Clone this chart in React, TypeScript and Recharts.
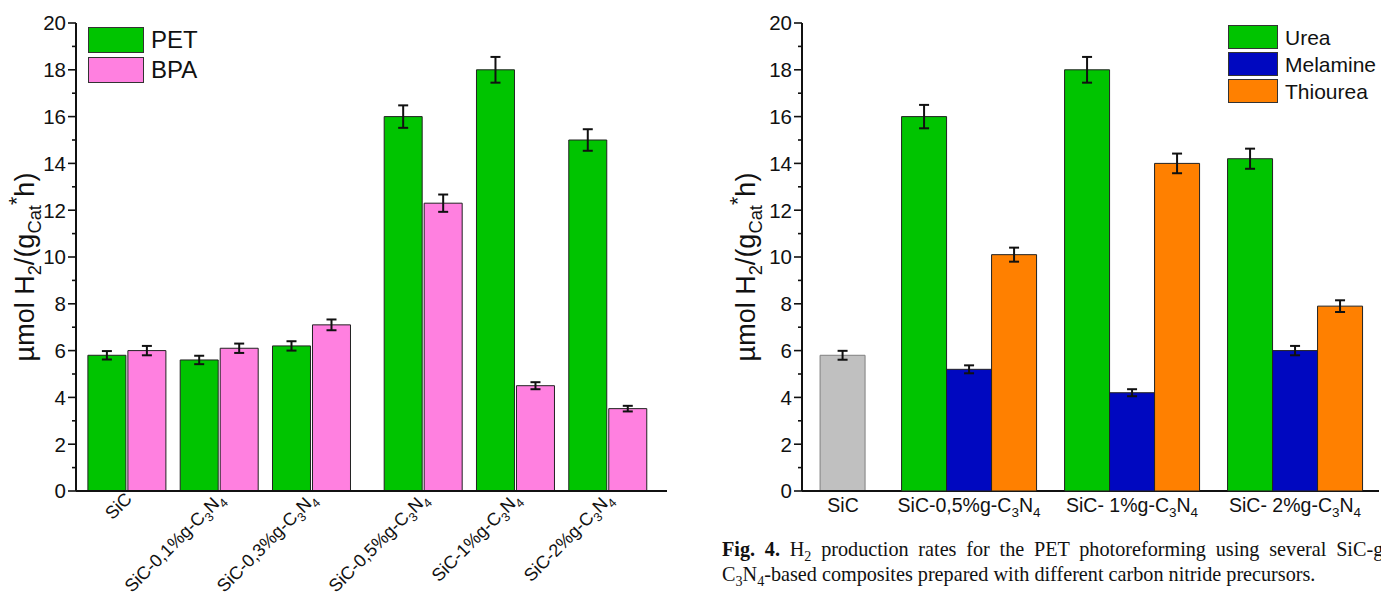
import React from 'react';
import { BarChart, Bar, XAxis, YAxis, ErrorBar, Cell, Legend } from 'recharts';

// ---------------- DATA ----------------
const leftCategories = ['SiC', 'SiC-0,1%g-C3N4', 'SiC-0,3%g-C3N4', 'SiC-0,5%g-C3N4', 'SiC-1%g-C3N4', 'SiC-2%g-C3N4'];
const petValues = [5.8, 5.6, 6.2, 16.0, 18.0, 15.0];
const petErrors = [0.18, 0.18, 0.2, 0.48, 0.55, 0.46];
const bpaValues = [6.0, 6.1, 7.1, 12.3, 4.5, 3.52];
const bpaErrors = [0.2, 0.2, 0.23, 0.37, 0.15, 0.12];

const rightCategories = ['SiC', 'SiC-0,5%g-C3N4', 'SiC- 1%g-C3N4', 'SiC- 2%g-C3N4'];
const sicValues = [5.8, null, null, null];
const sicErrors = [0.19, null, null, null];
const ureaValues = [null, 16.0, 18.0, 14.2];
const ureaErrors = [null, 0.5, 0.55, 0.43];
const melamineValues = [null, 5.2, 4.2, 6.0];
const melamineErrors = [null, 0.17, 0.15, 0.2];
const thioureaValues = [null, 10.1, 14.0, 7.9];
const thioureaErrors = [null, 0.3, 0.42, 0.25];

const yTicks = [0, 1, 2, 3, 4, 5, 6, 7, 8, 9, 10, 11, 12, 13, 14, 15, 16, 17, 18, 19, 20];

// ---------------- LAYOUT ----------------
const LEFT_X = [0, 1, 2, 3.21, 4.21, 5.21];
const LEFT_DOMAIN: [number, number] = [-0.553, 5.85];
const RIGHT_X = [0.227, 1, 2, 3];
const RIGHT_DOMAIN: [number, number] = [-0.025, 3.515];

const SANS = '"Liberation Sans", Arial, sans-serif';
const SERIF = '"Liberation Serif", "Times New Roman", serif';
const GREEN = '#00c400';
const PINK = '#ff80e0';
const BLUE = '#0008c0';
const ORANGE = '#ff8000';
const GRAY = '#c0c0c0';

const leftRows = leftCategories.map((name, i) => ({
  name,
  pos: LEFT_X[i],
  pet: petValues[i],
  petErr: petErrors[i],
  bpa: bpaValues[i],
  bpaErr: bpaErrors[i],
}));

const rightRows = rightCategories.map((name, i) => ({
  name,
  pos: RIGHT_X[i],
  sic: sicValues[i],
  sicErr: sicErrors[i],
  urea: ureaValues[i],
  ureaErr: ureaErrors[i],
  mel: melamineValues[i],
  melErr: melamineErrors[i],
  thio: thioureaValues[i],
  thioErr: thioureaErrors[i],
}));
const rightGroupRows = rightRows.filter((r) => r.urea != null);

const Formula = ({ label, subSize, shift }: { label: string; subSize: number; shift: number }) => {
  if (!label.endsWith('C3N4')) return <tspan>{label}</tspan>;
  const head = label.slice(0, -4);
  return (
    <>
      <tspan>{head}C</tspan>
      <tspan fontSize={subSize} dy={shift}>3</tspan>
      <tspan dy={-shift}>N</tspan>
      <tspan fontSize={subSize} dy={shift}>4</tspan>
    </>
  );
};

const findIdx = (arr: number[], v: number) => arr.findIndex((p) => Math.abs(p - v) < 1e-6);

const LeftXTick = (props: any) => {
  const { x, y, payload } = props;
  const idx = findIdx(LEFT_X, payload.value);
  if (idx < 0) return null;
  return (
    <text
      transform={`translate(${x + 6},${y + 9}) rotate(-45)`}
      textAnchor="end"
      fontFamily={SANS}
      fontSize={18}
      fill="#111"
    >
      <Formula label={leftCategories[idx]} subSize={12.5} shift={5} />
    </text>
  );
};

const RightXTick = (props: any) => {
  const { x, y, payload } = props;
  const idx = findIdx(RIGHT_X, payload.value);
  if (idx < 0) return null;
  return (
    <text x={x} y={y + 21} textAnchor="middle" fontFamily={SANS} fontSize={19.5} fill="#111">
      <Formula label={rightCategories[idx]} subSize={13.5} shift={5} />
    </text>
  );
};

const YTick = (props: any) => {
  const { x, y, payload } = props;
  const v = payload.value;
  const major = v % 2 === 0;
  return (
    <g>
      <line x1={x} x2={x - (major ? 8 : 4)} y1={y} y2={y} stroke="#111" strokeWidth={1.6} />
      {major && (
        <text x={x - 10} y={y} dy="0.36em" textAnchor="end" fontFamily={SANS} fontSize={20.5} fill="#111">
          {v}
        </text>
      )}
    </g>
  );
};

const LegendBox = ({ items, box, font, gap, textGap }: any) => (
  <div style={{ display: 'flex', flexDirection: 'column', gap }}>
    {items.map((it: any) => (
      <div key={it.name} style={{ display: 'flex', alignItems: 'center' }}>
        <div
          style={{
            width: box[0],
            height: box[1],
            background: it.color,
            border: '1.5px solid #333',
            boxSizing: 'border-box',
          }}
        />
        <span style={{ marginLeft: textGap, fontFamily: SANS, fontSize: font, color: '#111', lineHeight: 1 }}>
          {it.name}
        </span>
      </div>
    ))}
  </div>
);

const YLabel = ({ cx, cy, size }: { cx: number; cy: number; size: number }) => (
  <div
    style={{
      position: 'absolute',
      left: cx,
      top: cy,
      width: 340,
      textAlign: 'center',
      transform: 'translate(-50%, -50%) rotate(-90deg)',
      fontFamily: SANS,
      fontSize: size,
      color: '#111',
      whiteSpace: 'nowrap',
      lineHeight: 1,
    }}
  >
    µmol H<sub style={{ fontSize: '0.68em' }}>2</sub>/(g<sub style={{ fontSize: '0.68em' }}>Cat</sub>
    <sup style={{ fontSize: '0.8em' }}>*</sup>h)
  </div>
);

const axisLine = { stroke: '#111', strokeWidth: 2 };
const frameLine = { stroke: '#333', strokeWidth: 1.5 };

export default function App() {
  const H = 596;
  return (
    <div
      style={{
        position: 'absolute',
        left: 0,
        top: 0,
        width: 1381,
        height: H,
        overflow: 'hidden',
        background: '#fff',
      }}
    >
      {/* LEFT CHART */}
      <div style={{ position: 'absolute', left: 0, top: 0 }}>
        <BarChart width={690} height={H} data={leftRows} margin={{ top: 23, right: 23, left: 0, bottom: 0 }} barGap={2}>
          <XAxis
            dataKey="pos"
            type="number"
            domain={LEFT_DOMAIN}
            ticks={LEFT_X}
            interval={0}
            allowDataOverflow
            height={105}
            tickSize={0}
            tickMargin={0}
            tickLine={false}
            axisLine={axisLine}
            tick={<LeftXTick />}
          />
          <XAxis xAxisId="top" orientation="top" type="number" domain={LEFT_DOMAIN} height={0} tick={false} tickLine={false} axisLine={frameLine} />
          <YAxis
            type="number"
            domain={[0, 20]}
            ticks={yTicks}
            interval={0}
            width={76}
            tickSize={0}
            tickMargin={0}
            tickLine={false}
            axisLine={axisLine}
            tick={<YTick />}
          />
          <YAxis yAxisId="right" orientation="right" type="number" domain={[0, 20]} width={0} tick={false} tickLine={false} axisLine={frameLine} />
          <Legend
            layout="vertical"
            verticalAlign="middle"
            align="center"
            wrapperStyle={{ left: 88, top: 27, width: 'auto', height: 'auto' }}
            content={() => (
              <LegendBox items={[{ name: 'PET', color: GREEN }, { name: 'BPA', color: PINK }]} box={[56, 26]} font={24} gap={4} textGap={7} />
            )}
          />
          <Bar dataKey="pet" name="PET" fill={GREEN} stroke="#222" strokeWidth={1} barSize={38} isAnimationActive={false}>
            <ErrorBar dataKey="petErr" direction="y" width={5} strokeWidth={2} stroke="#111" />
          </Bar>
          <Bar dataKey="bpa" name="BPA" fill={PINK} stroke="#222" strokeWidth={1} barSize={38} isAnimationActive={false}>
            <ErrorBar dataKey="bpaErr" direction="y" width={5} strokeWidth={2} stroke="#111" />
          </Bar>
        </BarChart>
      </div>
      <YLabel cx={25} cy={267} size={27} />

      {/* RIGHT CHART - base (axes, SiC reference bar, legend) */}
      <div style={{ position: 'absolute', left: 690, top: 0 }}>
        <BarChart width={691} height={H} data={rightRows} margin={{ top: 23, right: 2, left: 36, bottom: 0 }}>
          <XAxis
            dataKey="pos"
            type="number"
            domain={RIGHT_DOMAIN}
            ticks={RIGHT_X}
            interval={0}
            allowDataOverflow
            height={105}
            tickSize={0}
            tickMargin={0}
            tickLine={false}
            axisLine={axisLine}
            tick={<RightXTick />}
          />
          <XAxis xAxisId="top" orientation="top" type="number" domain={RIGHT_DOMAIN} height={0} tick={false} tickLine={false} axisLine={frameLine} />
          <YAxis
            type="number"
            domain={[0, 20]}
            ticks={yTicks}
            interval={0}
            width={76}
            tickSize={0}
            tickMargin={0}
            tickLine={false}
            axisLine={axisLine}
            tick={<YTick />}
          />
          <YAxis yAxisId="right" orientation="right" type="number" domain={[0, 20]} width={0} tick={false} tickLine={false} axisLine={frameLine} />
          <Legend
            layout="vertical"
            verticalAlign="middle"
            align="center"
            wrapperStyle={{ left: 538, top: 25, width: 'auto', height: 'auto' }}
            content={() => (
              <LegendBox
                items={[
                  { name: 'Urea', color: GREEN },
                  { name: 'Melamine', color: BLUE },
                  { name: 'Thiourea', color: ORANGE },
                ]}
                box={[50, 24]}
                font={21}
                gap={3}
                textGap={7}
              />
            )}
          />
          <Bar dataKey="sic" name="SiC" fill={GRAY} stroke="#808080" strokeWidth={1} barSize={45} isAnimationActive={false}>
            <ErrorBar dataKey="sicErr" direction="y" width={5} strokeWidth={2} stroke="#111" />
          </Bar>
        </BarChart>
      </div>

      {/* RIGHT CHART - grouped precursor bars, same scales */}
      <div style={{ position: 'absolute', left: 690, top: 0 }}>
        <BarChart width={691} height={H} data={rightGroupRows} margin={{ top: 23, right: 2, left: 112, bottom: 105 }} barGap={0}>
          <XAxis dataKey="pos" type="number" domain={RIGHT_DOMAIN} allowDataOverflow hide />
          <YAxis type="number" domain={[0, 20]} hide />
          <Bar dataKey="urea" name="Urea" fill={GREEN} stroke="#222" strokeWidth={1} barSize={45} isAnimationActive={false}>
            <ErrorBar dataKey="ureaErr" direction="y" width={5} strokeWidth={2} stroke="#111" />
          </Bar>
          <Bar dataKey="mel" name="Melamine" fill={BLUE} stroke="#222" strokeWidth={1} barSize={45} isAnimationActive={false}>
            {rightGroupRows.map((r) => (
              <Cell key={r.name} fill={BLUE} />
            ))}
            <ErrorBar dataKey="melErr" direction="y" width={5} strokeWidth={2} stroke="#111" />
          </Bar>
          <Bar dataKey="thio" name="Thiourea" fill={ORANGE} stroke="#222" strokeWidth={1} barSize={45} isAnimationActive={false}>
            <ErrorBar dataKey="thioErr" direction="y" width={5} strokeWidth={2} stroke="#111" />
          </Bar>
        </BarChart>
      </div>
      <YLabel cx={746} cy={267} size={27} />

      {/* Caption */}
      <div style={{ position: 'absolute', left: 722, top: 537, fontFamily: SERIF, fontSize: 20.2, color: '#111', lineHeight: '25px' }}>
        <div style={{ width: 668, textAlign: 'justify', textAlignLast: 'justify', whiteSpace: 'nowrap' }}>
          <b>Fig. 4.</b> H<sub style={{ fontSize: '0.7em', lineHeight: 0 }}>2</sub> production rates for the PET photoreforming using several SiC-g-
        </div>
        <div style={{ whiteSpace: 'nowrap' }}>
          C<sub style={{ fontSize: '0.7em', lineHeight: 0 }}>3</sub>N<sub style={{ fontSize: '0.7em', lineHeight: 0 }}>4</sub>-based composites prepared with different carbon nitride precursors.
        </div>
      </div>
    </div>
  );
}
